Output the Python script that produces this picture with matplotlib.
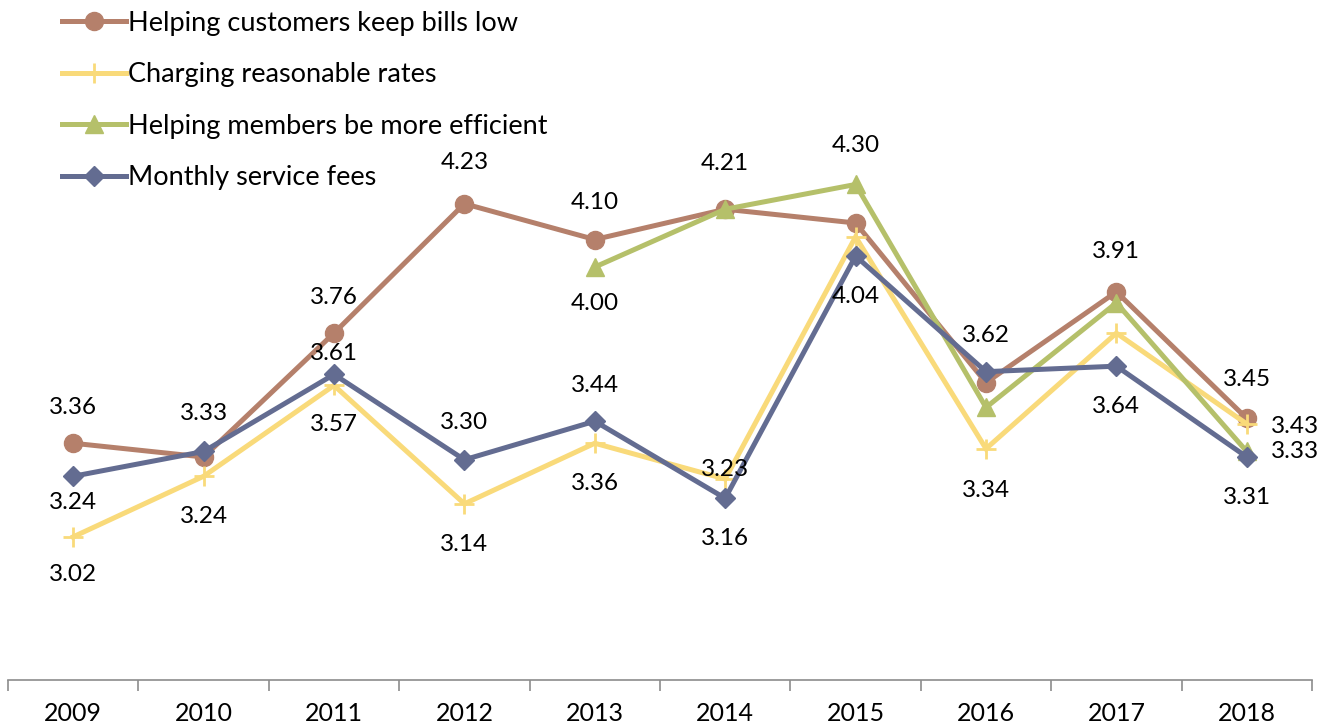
import numpy as np
import matplotlib
matplotlib.use("Agg")
import matplotlib.pyplot as plt

plt.rcParams["font.family"] = ["Lato", "DejaVu Sans"]

years = ["2009", "2010", "2011", "2012", "2013", "2014", "2015", "2016", "2017", "2018"]

bills_low = [3.36, 3.31, 3.76, 4.23, 4.10, 4.21, 4.16, 3.58, 3.91, 3.45]
reasonable_rates = [3.02, 3.24, 3.57, 3.14, 3.36, 3.23, 4.11, 3.34, 3.76, 3.43]
members_efficient = [np.nan, np.nan, np.nan, np.nan, 4.00, 4.21, 4.30, 3.49, 3.87, 3.33]
service_fees = [3.24, 3.33, 3.61, 3.30, 3.44, 3.16, 4.04, 3.62, 3.64, 3.31]

series = [
    ("Helping customers keep bills low", bills_low, "#B5806B", "o", 13),
    ("Charging reasonable rates", reasonable_rates, "#F9DA7A", "+", 15),
    ("Helping members be more efficient", members_efficient, "#B5C06A", "^", 13),
    ("Monthly service fees", service_fees, "#636C91", "D", 10),
]

# which points get a value label, and where (offset in points from the marker)
label_spots = {
    "Helping customers keep bills low": {0: (0, 26), 2: (0, 26), 3: (0, 30), 4: (0, 27), 5: (0, 33), 8: (0, 29), 9: (0, 28)},
    "Charging reasonable rates": {0: (0, -27), 1: (0, -29), 2: (0, -28), 3: (0, -29), 4: (0, -29), 5: (0, 7), 7: (0, -30), 9: (35, -2)},
    "Helping members be more efficient": {4: (0, -26), 6: (0, 28), 9: (35, 0)},
    "Monthly service fees": {0: (0, -19), 1: (0, 27), 2: (0, 15), 3: (0, 27), 4: (0, 26), 5: (0, -29), 6: (0, -29), 7: (0, 26), 8: (0, -29), 9: (0, -29)},
}

fig = plt.figure(figsize=(13.33, 7.27), dpi=100)
ax = fig.add_axes([8 / 1333, 1 - 680 / 727, 1304 / 1333, 680 / 727])

x = np.arange(len(years))
for name, vals, color, marker, ms in series:
    mew = 2 if marker == "+" else 1
    ax.plot(x, vals, color=color, lw=3.6, marker=marker, markersize=ms,
            markeredgewidth=mew, label=name, solid_joinstyle="miter")
    for idx, (dx, dy) in label_spots[name].items():
        ax.annotate(f"{vals[idx]:.2f}", (x[idx], vals[idx]), xytext=(dx, dy),
                    textcoords="offset points", ha="center", va="center",
                    fontsize=17.5, color="black")

ax.set_xlim(-0.5, len(years) - 0.5)
ax.set_ylim(2.5, 4.97)
ax.set_yticks([])
for side in ["top", "right", "left"]:
    ax.spines[side].set_visible(False)
ax.spines["bottom"].set_color("#8c8c8c")
ax.spines["bottom"].set_linewidth(1.2)

ax.set_xticks(x)
ax.set_xticklabels(years, fontsize=18)
ax.tick_params(axis="x", which="major", length=0, pad=16)
ax.set_xticks(np.arange(len(years) + 1) - 0.5, minor=True)
ax.tick_params(axis="x", which="minor", length=8, width=1.2, color="#8c8c8c")

ax.legend(loc="upper left", bbox_to_anchor=(0.033, 1.0), frameon=False,
          fontsize=19.5, handlelength=2.35, handletextpad=0.1, labelspacing=0.98,
          borderaxespad=0)

fig.savefig("out.png", dpi=100)
